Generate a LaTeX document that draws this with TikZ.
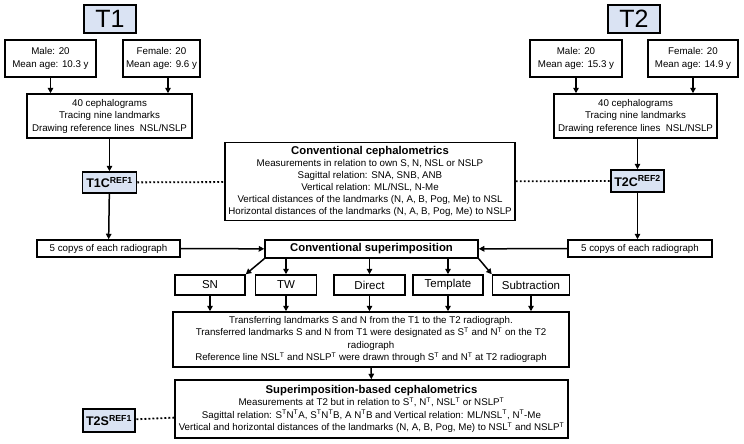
\documentclass[tikz,border=0pt]{standalone}
\usepackage{fontspec}
\setmainfont{Liberation Sans}
\usetikzlibrary{arrows.meta}
\definecolor{boxblue}{RGB}{218,227,243}

\begin{document}
\begin{tikzpicture}[x=1pt, y=-1pt,
        box/.style={draw, line width=1.5pt, align=center, inner sep=0pt,
            font=\fontsize{9.75}{12.5}\selectfont},
        tag/.style={box, fill=boxblue, font=\bfseries\fontsize{12.5}{14}\selectfont},
        method/.style={box, font=\fontsize{11.5}{13}\selectfont, minimum height=20},
        arr/.style={-{Triangle[length=5.5pt, width=5.5pt]}, line width=1.5pt},
        dots/.style={line width=1.8pt, dash pattern=on 1.8pt off 2.2pt}]
    \useasboundingbox (0,0) rectangle (744,444);

    % T1 side
    \node[tag, font=\fontsize{25}{28}\selectfont, minimum width=52, minimum height=28] (t1) at (110,19) {T1};
    \node[box, minimum width=91, minimum height=37] (male1)   at (50.5,58.5) {Male: 20\\Mean age: 10.3 y};
    \node[box, minimum width=77, minimum height=37] (female1) at (161.5,58.5) {Female: 20\\Mean age: 9.6 y};
    \node[box, minimum width=165, minimum height=44] (ceph1) at (109.5,116) {40 cephalograms\\Tracing nine landmarks\\Drawing reference lines~~NSL/NSLP};
    \node[tag, minimum width=54, minimum height=21] (t1c) at (109.5,182.5) {T1C\textsuperscript{REF1}};
    \node[box, minimum width=143, minimum height=17] (copy1) at (108.5,248.5) {5 copys of each radiograph};

    % T2 side
    \node[tag, font=\fontsize{25}{28}\selectfont, minimum width=52, minimum height=28] (t2) at (634,19) {T2};
    \node[box, minimum width=92, minimum height=37] (male2)   at (576,58.5) {Male: 20\\Mean age: 15.3 y};
    \node[box, minimum width=90, minimum height=37] (female2) at (693,58.5) {Female: 20\\Mean age: 14.9 y};
    \node[box, minimum width=163, minimum height=44] (ceph2) at (635.5,116) {40 cephalograms\\Tracing nine landmarks\\Drawing reference lines~~NSL/NSLP};
    \node[tag, minimum width=53, minimum height=22] (t2c) at (637.5,181) {T2C\textsuperscript{REF2}};
    \node[box, minimum width=144, minimum height=17] (copy2) at (640,248.5) {5 copys of each radiograph};

    % middle
    \node[box, font=\fontsize{9.75}{12}\selectfont, minimum width=290, minimum height=78] (conv) at (370,181.5)
        {{\bfseries\fontsize{11.3}{13}\selectfont Conventional cephalometrics}\\
         Measurements in relation to own S, N, NSL or NSLP\\
         Sagittal relation: SNA, SNB, ANB\\
         Vertical relation: ML/NSL, N-Me\\
         Vertical distances of the landmarks (N, A, B, Pog, Me) to NSL\\
         Horizontal distances of the landmarks (N, A, B, Pog, Me) to NSLP};
    \node[box, font=\bfseries\fontsize{11.3}{13}\selectfont, minimum width=213, minimum height=18] (superimp) at (371.5,249) {Conventional superimposition};

    \node[method, minimum width=70] (sn)          at (210,285)   {SN};
    \node[method, minimum width=61] (tw)          at (286,285)   {TW};
    \node[method, minimum width=71] (direct)      at (369.5,285) {Direct};
    \node[method, minimum width=70] (template)    at (448,285)   {Template};
    \node[method, minimum width=77] (subtraction) at (531,285)   {Subtraction};

    \node[box, minimum width=396, minimum height=55] (transfer) at (371,339.5)
        {Transferring landmarks S and N from the T1 to the T2 radiograph.\\
         Transferred landmarks S and N from T1 were designated as S\textsuperscript{T} and N\textsuperscript{T} on the T2\\
         radiograph\\
         Reference line NSL\textsuperscript{T} and NSLP\textsuperscript{T} were drawn through S\textsuperscript{T} and N\textsuperscript{T} at T2 radiograph};
    \node[box, minimum width=393, minimum height=58] (based) at (371.5,409)
        {{\bfseries\fontsize{11.3}{13.5}\selectfont Superimposition-based cephalometrics}\\
         Measurements at T2 but in relation to S\textsuperscript{T}, N\textsuperscript{T}, NSL\textsuperscript{T} or NSLP\textsuperscript{T}\\
         Sagittal relation: S\textsuperscript{T}N\textsuperscript{T}A, S\textsuperscript{T}N\textsuperscript{T}B, A N\textsuperscript{T}B and Vertical relation: ML/NSL\textsuperscript{T}, N\textsuperscript{T}-Me\\
         Vertical and horizontal distances of the landmarks (N, A, B, Pog, Me) to NSL\textsuperscript{T} and NSLP\textsuperscript{T}};
    \node[tag, minimum width=52, minimum height=23] (t2s) at (109,420.5) {T2S\textsuperscript{REF1}};

    % connectors
    \draw[arr] (male1) -- (male1 |- ceph1.north);
    \draw[arr] ([xshift=6.5]female1.south) -- ([xshift=6.5]female1.south |- ceph1.north);
    \draw[arr] (ceph1) -- (t1c);
    \draw[arr] (t1c) -- (copy1);
    \draw[arr] (male2) -- (male2 |- ceph2.north);
    \draw[arr] (female2) -- (female2 |- ceph2.north);
    \draw[arr] (ceph2.south -| t2c) -- (t2c);
    \draw[arr] (t2c) -- (t2c |- copy2.north);

    \draw[dots] (t1c) -- (conv);
    \draw[dots] (conv) -- (t2c);

    \draw[arr] (copy1) -- (superimp);
    \draw[arr] (copy2) -- (superimp);

    \draw[arr] (superimp.south west) -- (sn.north east);
    \draw[arr] (superimp.south -| tw) -- (tw);
    \draw[arr] (superimp.south -| direct) -- (direct);
    \draw[arr] (superimp.south -| template) -- (template);
    \draw[arr] (superimp.south east) -- (subtraction.north west);

    \foreach \b in {sn, tw, direct, template, subtraction}
        \draw[arr] (\b) -- (\b |- transfer.north);

    \draw[arr] (transfer) -- (based);
    \draw[dots] (based) -- (t2s);
\end{tikzpicture}
\end{document}
